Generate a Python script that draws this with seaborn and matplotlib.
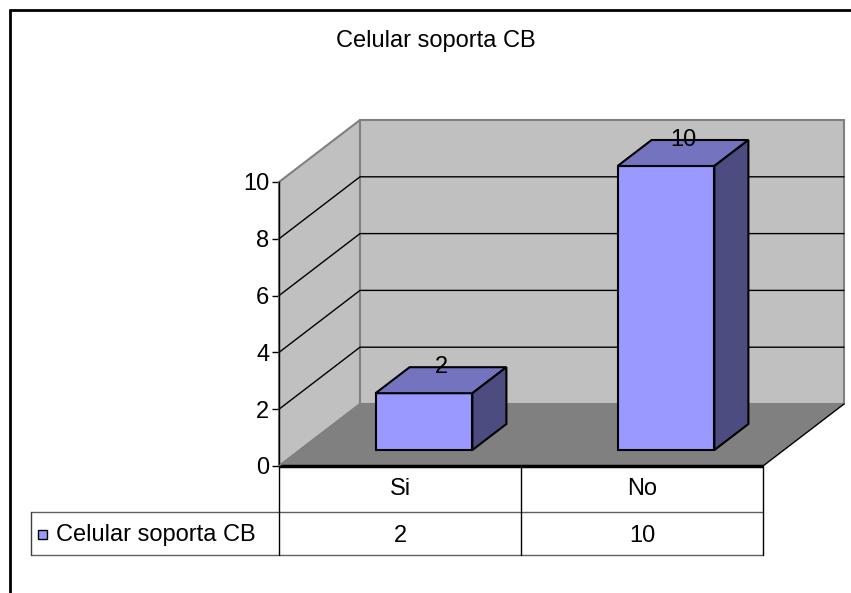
import matplotlib
matplotlib.use("Agg")
import matplotlib.pyplot as plt
import matplotlib.transforms as mtransforms
from matplotlib.patches import Polygon, Rectangle
from matplotlib.lines import Line2D
import seaborn as sns

# ---- data ----
categories = ["Si", "No"]
values = [2, 10]
series_name = "Celular soporta CB"
chart_title = "Celular soporta CB"
y_ticks = [0, 2, 4, 6, 8, 10]

# ---- colours ----
BAR_FRONT = "#9999FF"
BAR_TOP = "#7373C0"
BAR_SIDE = "#4C4C80"
WALL = "#C0C0C0"
FLOOR = "#808080"
WALL_EDGE = "#808080"

W, H, DPI = 851, 593, 100
FS = 17

sns.set_theme(style="white")
plt.rcParams["font.family"] = ["Liberation Sans", "DejaVu Sans"]

fig = plt.figure(figsize=(W / DPI, H / DPI), dpi=DPI)
fig.patch.set_facecolor("white")

# pixel transform: (x from left, y from top)
pix = mtransforms.Affine2D().scale(1, -1).translate(0, H)

# front plane of the 3-D plot box, in pixels
PL, PR, PT, PB = 279, 763, 182, 466
ax = fig.add_axes([PL / W, 1 - PB / H, (PR - PL) / W, (PB - PT) / H])
ax.set_xlim(-0.5, 1.5)
ax.set_ylim(0, 10)
ax.patch.set_visible(False)

ppx = (PR - PL) / 2.0    # pixels per category
ppy = (PB - PT) / 10.0   # pixels per value unit


def ddx(p):
    return p / ppx


def ddy(p):
    return p / ppy


# oblique depth vectors (pixels)
WALL_D = (81, 62)
BAR_SHIFT = (24, 16)
BAR_D = (34, 26)

wx, wy = ddx(WALL_D[0]), ddy(WALL_D[1])
x_lo, x_hi = -0.5, 1.5

# side wall, back wall, floor
side = Polygon([(x_lo, 0), (x_lo, 10), (x_lo + wx, 10 + wy), (x_lo + wx, wy)],
               closed=True, facecolor=WALL, edgecolor=WALL_EDGE, lw=1.5,
               clip_on=False, zorder=1)
back = Polygon([(x_lo + wx, wy), (x_hi + wx, wy), (x_hi + wx, 10 + wy), (x_lo + wx, 10 + wy)],
               closed=True, facecolor=WALL, edgecolor=WALL_EDGE, lw=1.5,
               clip_on=False, zorder=1)
floor = Polygon([(x_lo, 0), (x_hi, 0), (x_hi + wx, wy), (x_lo + wx, wy)],
                closed=True, facecolor=FLOOR, edgecolor="none",
                clip_on=False, zorder=2)
for p in (side, back, floor):
    ax.add_patch(p)

# floor outline: thick front edge, thin right edge
ax.plot([x_lo, x_hi], [0, 0], color="black", lw=2.5, clip_on=False, zorder=3,
        solid_capstyle="butt")
ax.plot([x_hi, x_hi + wx], [0, wy], color="black", lw=1, clip_on=False, zorder=3)
ax.plot([x_lo, x_lo + wx], [0, wy], color=WALL_EDGE, lw=1, clip_on=False, zorder=3)

# gridlines on side and back walls
for v in y_ticks[1:-1]:
    ax.plot([x_lo, x_lo + wx, x_hi + wx], [v, v + wy, v + wy],
            color="black", lw=1, clip_on=False, zorder=2)

# bars (front faces) via seaborn
sns.barplot(x=categories, y=values, ax=ax, color=BAR_FRONT, saturation=1,
            width=0.4, edgecolor="black", linewidth=1.5, zorder=5)
ax.set_xlim(-0.5, 1.5)
ax.set_ylim(0, 10)

sx, sy = ddx(BAR_SHIFT[0]), ddy(BAR_SHIFT[1])
bx, by = ddx(BAR_D[0]), ddy(BAR_D[1])

bars = [b for b in ax.patches if isinstance(b, Rectangle)]
for bar, val in zip(bars, values):
    bar.set_x(bar.get_x() + sx)
    bar.set_y(bar.get_y() + sy)
    bar.set_clip_on(False)
    x0 = bar.get_x()
    x1 = x0 + bar.get_width()
    y0 = bar.get_y()
    y1 = y0 + bar.get_height()
    top = Polygon([(x0, y1), (x1, y1), (x1 + bx, y1 + by), (x0 + bx, y1 + by)],
                  closed=True, facecolor=BAR_TOP, edgecolor="black", lw=1.5,
                  clip_on=False, zorder=6, joinstyle="miter")
    sidef = Polygon([(x1, y0), (x1, y1), (x1 + bx, y1 + by), (x1 + bx, y0 + by)],
                    closed=True, facecolor=BAR_SIDE, edgecolor="black", lw=1.5,
                    clip_on=False, zorder=6, joinstyle="miter")
    ax.add_patch(top)
    ax.add_patch(sidef)
    ax.text((x0 + x1) / 2 + bx / 2, y1 + by, f"{val:g}", ha="center", va="center",
            fontsize=FS, color="black", zorder=7)

# value axis
ax.set_yticks(y_ticks)
ax.set_yticklabels([str(t) for t in y_ticks])
ax.set_xticks([])
ax.set_xlabel("")
ax.set_ylabel("")
ax.tick_params(axis="y", which="both", left=True, length=5, width=1, color="black",
               pad=2, labelsize=FS, labelcolor="black")
for name, sp in ax.spines.items():
    sp.set_visible(name == "left")
ax.spines["left"].set_color("black")
ax.spines["left"].set_linewidth(1)

# ---- data table under the plot ----
blend = mtransforms.blended_transform_factory(ax.transData, pix)
ROW0, ROW1, ROW2 = 466, 512, 555
TABLE_LEFT = 31


def hline(y, x0, x1, color):
    fig.add_artist(Line2D([x0, x1], [y, y], transform=pix, color=color, lw=1))


def vline(x, y0, y1, color="black"):
    fig.add_artist(Line2D([x, x], [y0, y1], transform=pix, color=color, lw=1))


hline(ROW1, TABLE_LEFT, PR, "#606060")
hline(ROW2, TABLE_LEFT, PR, "#606060")
for i in range(len(categories) + 1):
    fig.add_artist(Line2D([i - 0.5, i - 0.5], [ROW0, ROW2], transform=blend,
                          color="black", lw=1))
vline(TABLE_LEFT, ROW1, ROW2, "#404040")

for i, (cat, val) in enumerate(zip(categories, values)):
    fig.text(i, (ROW0 + ROW1) / 2, cat, transform=blend, ha="center", va="center",
             fontsize=FS, color="black")
    fig.text(i, (ROW1 + ROW2) / 2 + 2, f"{val:g}", transform=blend, ha="center",
             va="center", fontsize=FS, color="black")

# legend key in the table
fig.add_artist(Rectangle((38, 530), 9, 9, transform=pix, facecolor=BAR_FRONT,
                         edgecolor="black", lw=1))
fig.text(56, (ROW1 + ROW2) / 2 + 2, series_name, transform=pix, ha="left",
         va="center", fontsize=FS, color="black")

# ---- title and chart-area border ----
fig.text(436, 41, chart_title, transform=pix, ha="center", va="center",
         fontsize=FS, color="black")
fig.add_artist(Line2D([10, W], [10, 10], transform=pix, color="black", lw=2))
fig.add_artist(Line2D([10, 10], [10, H], transform=pix, color="black", lw=2))

fig.savefig("out.png", dpi=DPI, facecolor="white")
